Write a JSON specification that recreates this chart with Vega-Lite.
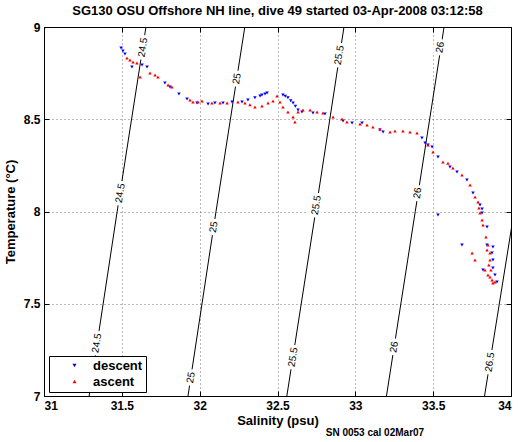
{
  "$schema": "https://vega.github.io/schema/vega-lite/v6.json",
  "autosize": "none",
  "width": 467,
  "height": 369,
  "padding": {"left": 44, "top": 27, "right": 11, "bottom": 46},
  "background": "white",
  "title": {"text": "SG130 OSU Offshore NH line, dive 49 started 03-Apr-2008 03:12:58", "font": "Liberation Sans", "fontSize": 13, "fontWeight": "bold", "color": "black", "offset": 3},
  "config": {
    "view": {"stroke": "black", "strokeWidth": 1},
    "axis": {"domainColor": "black", "tickColor": "black", "labelColor": "black", "labelFont": "Liberation Sans", "labelFontWeight": "bold", "labelFontSize": 12, "titleFont": "Liberation Sans", "titleFontWeight": "bold", "titleFontSize": 13, "titleColor": "black"},
    "legend": {"labelFont": "Liberation Sans", "labelFontWeight": "bold", "labelFontSize": 13, "labelColor": "black"}
  },
  "datasets": {
    "iso": [
      {"s": 31.006, "t": 9.0, "sigma": "24"}, {"s": 30.82, "t": 8.0, "sigma": "24"},
      {"s": 31.29, "t": 7.0, "sigma": "24.5"}, {"s": 31.47, "t": 8.0, "sigma": "24.5"}, {"s": 31.655, "t": 9.0, "sigma": "24.5"},
      {"s": 31.925, "t": 7.0, "sigma": "25"}, {"s": 32.105, "t": 8.0, "sigma": "25"}, {"s": 32.29, "t": 9.0, "sigma": "25"},
      {"s": 32.56, "t": 7.0, "sigma": "25.5"}, {"s": 32.745, "t": 8.0, "sigma": "25.5"}, {"s": 32.927, "t": 9.0, "sigma": "25.5"},
      {"s": 33.2, "t": 7.0, "sigma": "26"}, {"s": 33.385, "t": 8.0, "sigma": "26"}, {"s": 33.57, "t": 9.0, "sigma": "26"},
      {"s": 33.83, "t": 7.0, "sigma": "26.5"}, {"s": 34.02, "t": 8.0, "sigma": "26.5"}
    ],
    "lbl": [
      {"s": 31.636, "t": 8.89, "label": "24.5"}, {"s": 31.49, "t": 8.1, "label": "24.5"}, {"s": 31.34, "t": 7.287, "label": "24.5"},
      {"s": 32.24, "t": 8.72, "label": "25"}, {"s": 32.09, "t": 7.916, "label": "25"}, {"s": 31.944, "t": 7.1, "label": "25"},
      {"s": 32.897, "t": 8.848, "label": "25.5"}, {"s": 32.75, "t": 8.035, "label": "25.5"}, {"s": 32.6, "t": 7.21, "label": "25.5"},
      {"s": 33.545, "t": 8.89, "label": "26"}, {"s": 33.4, "t": 8.1, "label": "26"}, {"s": 33.25, "t": 7.266, "label": "26"},
      {"s": 33.865, "t": 7.184, "label": "26.5"}
    ],
    "pts": [
      {"s": 31.495, "t": 8.886, "phase": "descent"}, {"s": 31.507, "t": 8.87, "phase": "descent"}, {"s": 31.52, "t": 8.854, "phase": "descent"},
      {"s": 31.565, "t": 8.783, "phase": "descent"}, {"s": 31.63, "t": 8.794, "phase": "descent"}, {"s": 31.662, "t": 8.783, "phase": "descent"},
      {"s": 31.777, "t": 8.697, "phase": "descent"}, {"s": 31.809, "t": 8.675, "phase": "descent"}, {"s": 31.867, "t": 8.637, "phase": "descent"},
      {"s": 31.919, "t": 8.61, "phase": "descent"}, {"s": 31.983, "t": 8.588, "phase": "descent"}, {"s": 32.054, "t": 8.583, "phase": "descent"},
      {"s": 32.098, "t": 8.588, "phase": "descent"}, {"s": 32.15, "t": 8.588, "phase": "descent"}, {"s": 32.208, "t": 8.594, "phase": "descent"},
      {"s": 32.272, "t": 8.594, "phase": "descent"}, {"s": 32.31, "t": 8.605, "phase": "descent"}, {"s": 32.355, "t": 8.616, "phase": "descent"},
      {"s": 32.388, "t": 8.626, "phase": "descent"}, {"s": 32.4, "t": 8.632, "phase": "descent"}, {"s": 32.42, "t": 8.637, "phase": "descent"},
      {"s": 32.433, "t": 8.642, "phase": "descent"}, {"s": 32.535, "t": 8.632, "phase": "descent"}, {"s": 32.55, "t": 8.625, "phase": "descent"},
      {"s": 32.567, "t": 8.616, "phase": "descent"}, {"s": 32.585, "t": 8.6, "phase": "descent"}, {"s": 32.6, "t": 8.588, "phase": "descent"},
      {"s": 32.615, "t": 8.57, "phase": "descent"}, {"s": 32.632, "t": 8.55, "phase": "descent"}, {"s": 32.657, "t": 8.539, "phase": "descent"},
      {"s": 32.728, "t": 8.534, "phase": "descent"}, {"s": 32.805, "t": 8.528, "phase": "descent"}, {"s": 32.921, "t": 8.491, "phase": "descent"},
      {"s": 32.979, "t": 8.48, "phase": "descent"}, {"s": 33.043, "t": 8.48, "phase": "descent"}, {"s": 33.158, "t": 8.442, "phase": "descent"},
      {"s": 33.178, "t": 8.431, "phase": "descent"}, {"s": 33.428, "t": 8.398, "phase": "descent"}, {"s": 33.448, "t": 8.371, "phase": "descent"},
      {"s": 33.467, "t": 8.36, "phase": "descent"}, {"s": 33.493, "t": 8.35, "phase": "descent"}, {"s": 33.531, "t": 8.295, "phase": "descent"},
      {"s": 33.608, "t": 8.241, "phase": "descent"}, {"s": 33.653, "t": 8.214, "phase": "descent"}, {"s": 33.717, "t": 8.171, "phase": "descent"},
      {"s": 33.756, "t": 8.1, "phase": "descent"}, {"s": 33.801, "t": 8.035, "phase": "descent"}, {"s": 33.814, "t": 8.014, "phase": "descent"},
      {"s": 33.531, "t": 7.981, "phase": "descent"}, {"s": 33.814, "t": 7.992, "phase": "descent"}, {"s": 33.846, "t": 7.916, "phase": "descent"},
      {"s": 33.685, "t": 7.818, "phase": "descent"}, {"s": 33.846, "t": 7.818, "phase": "descent"}, {"s": 33.884, "t": 7.808, "phase": "descent"},
      {"s": 33.878, "t": 7.775, "phase": "descent"}, {"s": 33.884, "t": 7.737, "phase": "descent"}, {"s": 33.884, "t": 7.694, "phase": "descent"},
      {"s": 33.82, "t": 7.683, "phase": "descent"}, {"s": 33.897, "t": 7.656, "phase": "descent"}, {"s": 33.91, "t": 7.618, "phase": "descent"},
      {"s": 31.533, "t": 8.832, "phase": "ascent"}, {"s": 31.552, "t": 8.821, "phase": "ascent"}, {"s": 31.572, "t": 8.81, "phase": "ascent"},
      {"s": 31.597, "t": 8.805, "phase": "ascent"}, {"s": 31.617, "t": 8.729, "phase": "ascent"}, {"s": 31.681, "t": 8.751, "phase": "ascent"},
      {"s": 31.713, "t": 8.74, "phase": "ascent"}, {"s": 31.732, "t": 8.729, "phase": "ascent"}, {"s": 31.797, "t": 8.686, "phase": "ascent"},
      {"s": 31.822, "t": 8.675, "phase": "ascent"}, {"s": 31.938, "t": 8.605, "phase": "ascent"}, {"s": 31.957, "t": 8.594, "phase": "ascent"},
      {"s": 31.989, "t": 8.594, "phase": "ascent"}, {"s": 32.015, "t": 8.599, "phase": "ascent"}, {"s": 32.079, "t": 8.588, "phase": "ascent"},
      {"s": 32.131, "t": 8.588, "phase": "ascent"}, {"s": 32.176, "t": 8.588, "phase": "ascent"}, {"s": 32.246, "t": 8.594, "phase": "ascent"},
      {"s": 32.291, "t": 8.588, "phase": "ascent"}, {"s": 32.323, "t": 8.578, "phase": "ascent"}, {"s": 32.355, "t": 8.567, "phase": "ascent"},
      {"s": 32.4, "t": 8.572, "phase": "ascent"}, {"s": 32.439, "t": 8.588, "phase": "ascent"}, {"s": 32.471, "t": 8.599, "phase": "ascent"},
      {"s": 32.497, "t": 8.626, "phase": "ascent"}, {"s": 32.516, "t": 8.594, "phase": "ascent"}, {"s": 32.535, "t": 8.567, "phase": "ascent"},
      {"s": 32.567, "t": 8.539, "phase": "ascent"}, {"s": 32.6, "t": 8.512, "phase": "ascent"}, {"s": 32.612, "t": 8.485, "phase": "ascent"},
      {"s": 32.632, "t": 8.539, "phase": "ascent"}, {"s": 32.664, "t": 8.55, "phase": "ascent"}, {"s": 32.709, "t": 8.55, "phase": "ascent"},
      {"s": 32.754, "t": 8.539, "phase": "ascent"}, {"s": 32.792, "t": 8.534, "phase": "ascent"}, {"s": 32.857, "t": 8.512, "phase": "ascent"},
      {"s": 32.914, "t": 8.502, "phase": "ascent"}, {"s": 32.946, "t": 8.485, "phase": "ascent"}, {"s": 33.03, "t": 8.474, "phase": "ascent"},
      {"s": 33.075, "t": 8.469, "phase": "ascent"}, {"s": 33.113, "t": 8.458, "phase": "ascent"}, {"s": 33.158, "t": 8.447, "phase": "ascent"},
      {"s": 33.223, "t": 8.431, "phase": "ascent"}, {"s": 33.255, "t": 8.436, "phase": "ascent"}, {"s": 33.306, "t": 8.436, "phase": "ascent"},
      {"s": 33.351, "t": 8.431, "phase": "ascent"}, {"s": 33.396, "t": 8.425, "phase": "ascent"}, {"s": 33.467, "t": 8.36, "phase": "ascent"},
      {"s": 33.499, "t": 8.322, "phase": "ascent"}, {"s": 33.563, "t": 8.268, "phase": "ascent"}, {"s": 33.595, "t": 8.262, "phase": "ascent"},
      {"s": 33.627, "t": 8.236, "phase": "ascent"}, {"s": 33.685, "t": 8.198, "phase": "ascent"}, {"s": 33.737, "t": 8.144, "phase": "ascent"},
      {"s": 33.769, "t": 8.079, "phase": "ascent"}, {"s": 33.788, "t": 8.051, "phase": "ascent"}, {"s": 33.794, "t": 8.019, "phase": "ascent"},
      {"s": 33.801, "t": 7.992, "phase": "ascent"}, {"s": 33.814, "t": 7.954, "phase": "ascent"}, {"s": 33.82, "t": 7.927, "phase": "ascent"},
      {"s": 33.839, "t": 7.862, "phase": "ascent"}, {"s": 33.75, "t": 7.775, "phase": "ascent"}, {"s": 33.769, "t": 7.737, "phase": "ascent"},
      {"s": 33.846, "t": 7.791, "phase": "ascent"}, {"s": 33.852, "t": 7.818, "phase": "ascent"}, {"s": 33.865, "t": 7.775, "phase": "ascent"},
      {"s": 33.865, "t": 7.737, "phase": "ascent"}, {"s": 33.858, "t": 7.71, "phase": "ascent"}, {"s": 33.871, "t": 7.683, "phase": "ascent"},
      {"s": 33.833, "t": 7.683, "phase": "ascent"}, {"s": 33.852, "t": 7.656, "phase": "ascent"}, {"s": 33.865, "t": 7.645, "phase": "ascent"},
      {"s": 33.878, "t": 7.629, "phase": "ascent"}, {"s": 33.884, "t": 7.612, "phase": "ascent"}, {"s": 33.897, "t": 7.618, "phase": "ascent"}
    ]
  },
  "resolve": {"axis": {"x": "independent", "y": "independent"}},
  "layer": [
    {
      "data": {"name": "iso"},
      "mark": {"type": "line", "color": "black", "strokeWidth": 1, "clip": true},
      "encoding": {
        "x": {"field": "s", "type": "quantitative", "scale": {"domain": [31, 34], "nice": false, "zero": false},
              "axis": {"orient": "bottom", "values": [31, 31.5, 32, 32.5, 33, 33.5, 34], "format": "~g", "tickSize": -5, "labelPadding": 9, "grid": true, "gridColor": "black", "gridDash": [1, 3], "gridOpacity": 0.55, "title": "Salinity (psu)", "titlePadding": 3}},
        "y": {"field": "t", "type": "quantitative", "scale": {"domain": [7, 9], "nice": false, "zero": false},
              "axis": {"orient": "left", "values": [7, 7.5, 8, 8.5, 9], "format": "~g", "tickSize": -5, "labelPadding": 9, "grid": true, "gridColor": "black", "gridDash": [1, 3], "gridOpacity": 0.55, "title": "Temperature (°C)", "titlePadding": 6}},
        "detail": {"field": "sigma"},
        "order": {"field": "t"}
      }
    },
    {
      "data": {"name": "lbl"},
      "mark": {"type": "text", "angle": 279, "font": "Liberation Sans", "fontSize": 10, "stroke": "white", "strokeWidth": 6, "color": "white"},
      "encoding": {
        "x": {"field": "s", "type": "quantitative", "axis": null},
        "y": {"field": "t", "type": "quantitative", "axis": null},
        "text": {"field": "label"}
      }
    },
    {
      "data": {"name": "lbl"},
      "mark": {"type": "text", "angle": 279, "font": "Liberation Sans", "fontSize": 10, "color": "black"},
      "encoding": {
        "x": {"field": "s", "type": "quantitative", "axis": null},
        "y": {"field": "t", "type": "quantitative", "axis": null},
        "text": {"field": "label"}
      }
    },
    {
      "data": {"name": "pts"},
      "mark": {"type": "point", "filled": true, "size": 12, "opacity": 1},
      "encoding": {
        "x": {"field": "s", "type": "quantitative", "axis": {"orient": "top", "values": [31, 31.5, 32, 32.5, 33, 33.5, 34], "labels": false, "tickSize": -5, "grid": false, "title": null, "domain": false}},
        "y": {"field": "t", "type": "quantitative", "axis": {"orient": "right", "values": [7, 7.5, 8, 8.5, 9], "labels": false, "tickSize": -5, "grid": false, "title": null, "domain": false}},
        "color": {"field": "phase", "type": "nominal", "scale": {"domain": ["descent", "ascent"], "range": ["#0000ff", "#ff0000"]},
                  "legend": {"title": null, "orient": "none", "legendX": 5, "legendY": 329, "strokeColor": "black", "fillColor": "white", "padding": 3, "symbolOffset": 16, "labelOffset": 12, "symbolSize": 16, "rowPadding": 2}},
        "shape": {"field": "phase", "type": "nominal", "scale": {"domain": ["descent", "ascent"], "range": ["triangle-down", "triangle-up"]}}
      }
    },
    {
      "data": {"values": [{"note": "SN 0053 cal 02Mar07"}]},
      "mark": {"type": "text", "font": "Liberation Sans", "fontSize": 10, "fontWeight": "bold", "color": "black", "align": "center", "baseline": "middle"},
      "encoding": {
        "x": {"datum": 33.126, "type": "quantitative", "axis": null},
        "y": {"datum": 6.8, "type": "quantitative", "axis": null},
        "text": {"field": "note"}
      }
    }
  ]
}
